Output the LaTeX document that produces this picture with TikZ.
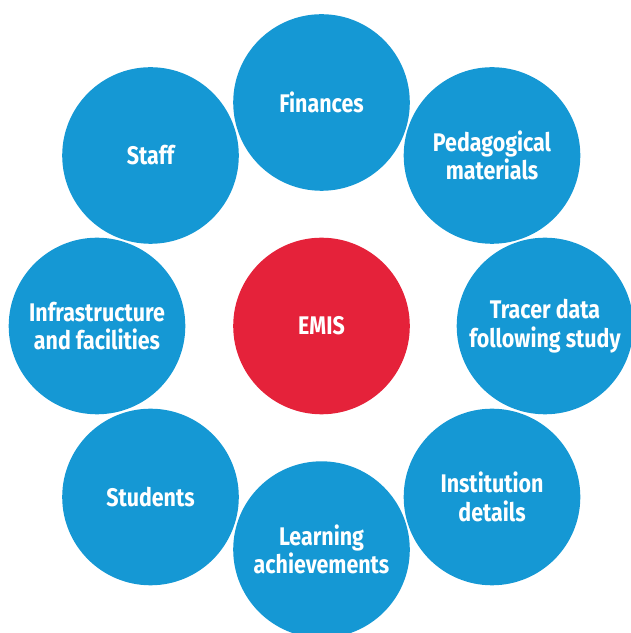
\documentclass[tikz,border=0pt]{standalone}
\usepackage{fontspec}
\newfontfamily\bubblefont[FakeStretch=0.84]{Fira Sans}
\definecolor{bubbleblue}{RGB}{21,152,212}
\definecolor{emisred}{RGB}{229,34,58}

\begin{document}
\begin{tikzpicture}[every node/.style={circle,inner sep=0pt,
						minimum size=176.6bp,align=center,text=white,
						font=\bubblefont\bfseries\fontsize{25.6}{28.5}\selectfont},
						bubble/.style={fill=bubbleblue},
						hub/.style={fill=emisred}]

		\useasboundingbox (0bp,0bp) rectangle (631bp,633bp);

		\node[hub] (emis) at (321.5bp,307.0bp) {EMIS};

		\node[bubble] (finances) at (321.5bp,530.5bp) {Finances};
		\node[bubble] (pedagogical) at (492.0bp,477.5bp) {Pedagogical\\materials};
		\node[bubble] (tracer) at (545.0bp,307.0bp) {Tracer data\\following study};
		\node[bubble] (institution) at (492.0bp,136.0bp) {Institution\\details};
		\node[bubble] (learning) at (321.5bp,83.4bp) {Learning\\achievements};
		\node[bubble] (students) at (150.5bp,136.0bp) {Students};
		\node[bubble] (infrastructure) at (97.0bp,307.0bp) {Infrastructure\\and facilities};
		\node[bubble] (staff) at (150.5bp,477.5bp) {Staff};


	\end{tikzpicture}
\end{document}
